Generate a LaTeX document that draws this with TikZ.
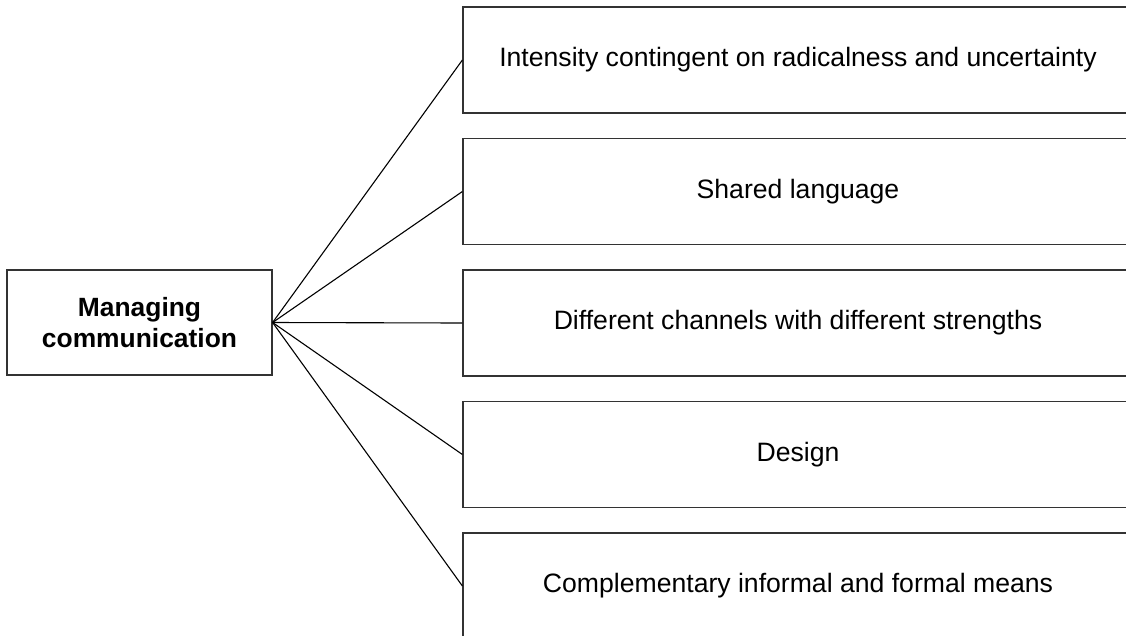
\documentclass[tikz,border=0pt]{standalone}
\usepackage{fontspec}
\setmainfont{Liberation Sans}
\usetikzlibrary{positioning}

\begin{document}
\begin{tikzpicture}[-,x=1pt,y=-1pt,auto,node distance=131.5pt,thick,
    item node/.style={rectangle,draw=black!80,line width=1.2pt,minimum width=670pt,minimum height=106pt,inner sep=0pt,font=\fontsize{26.6}{32}\selectfont},
    main node/.style={rectangle,draw=black!80,line width=1.2pt,minimum width=265pt,minimum height=105pt,inner sep=0pt,align=center,font=\fontsize{26.4}{31}\selectfont\bfseries}]
                \useasboundingbox (0,0) rectangle (1126,635);

                \node[main node] (0) at (139.5,322.5) {Managing\\communication};

                \node[item node] (1) at (798,60) {Intensity contingent on radicalness and uncertainty};
                \node[item node] (2) [below of=1] {Shared language};
                \node[item node] (3) [below of=2] {Different channels with different strengths};
                \node[item node] (4) [below of=3] {Design};
                \node[item node] (5) [below of=4] {Complementary informal and formal means};

                \path[line width=1.1pt]
                    (0.east) edge (1.west)
                    (0.east) edge (2.west)
                    (0.east) edge (3.west)
                    (0.east) edge (4.west)
                    (0.east) edge (5.west)
                    ;
\end{tikzpicture}
\end{document}
